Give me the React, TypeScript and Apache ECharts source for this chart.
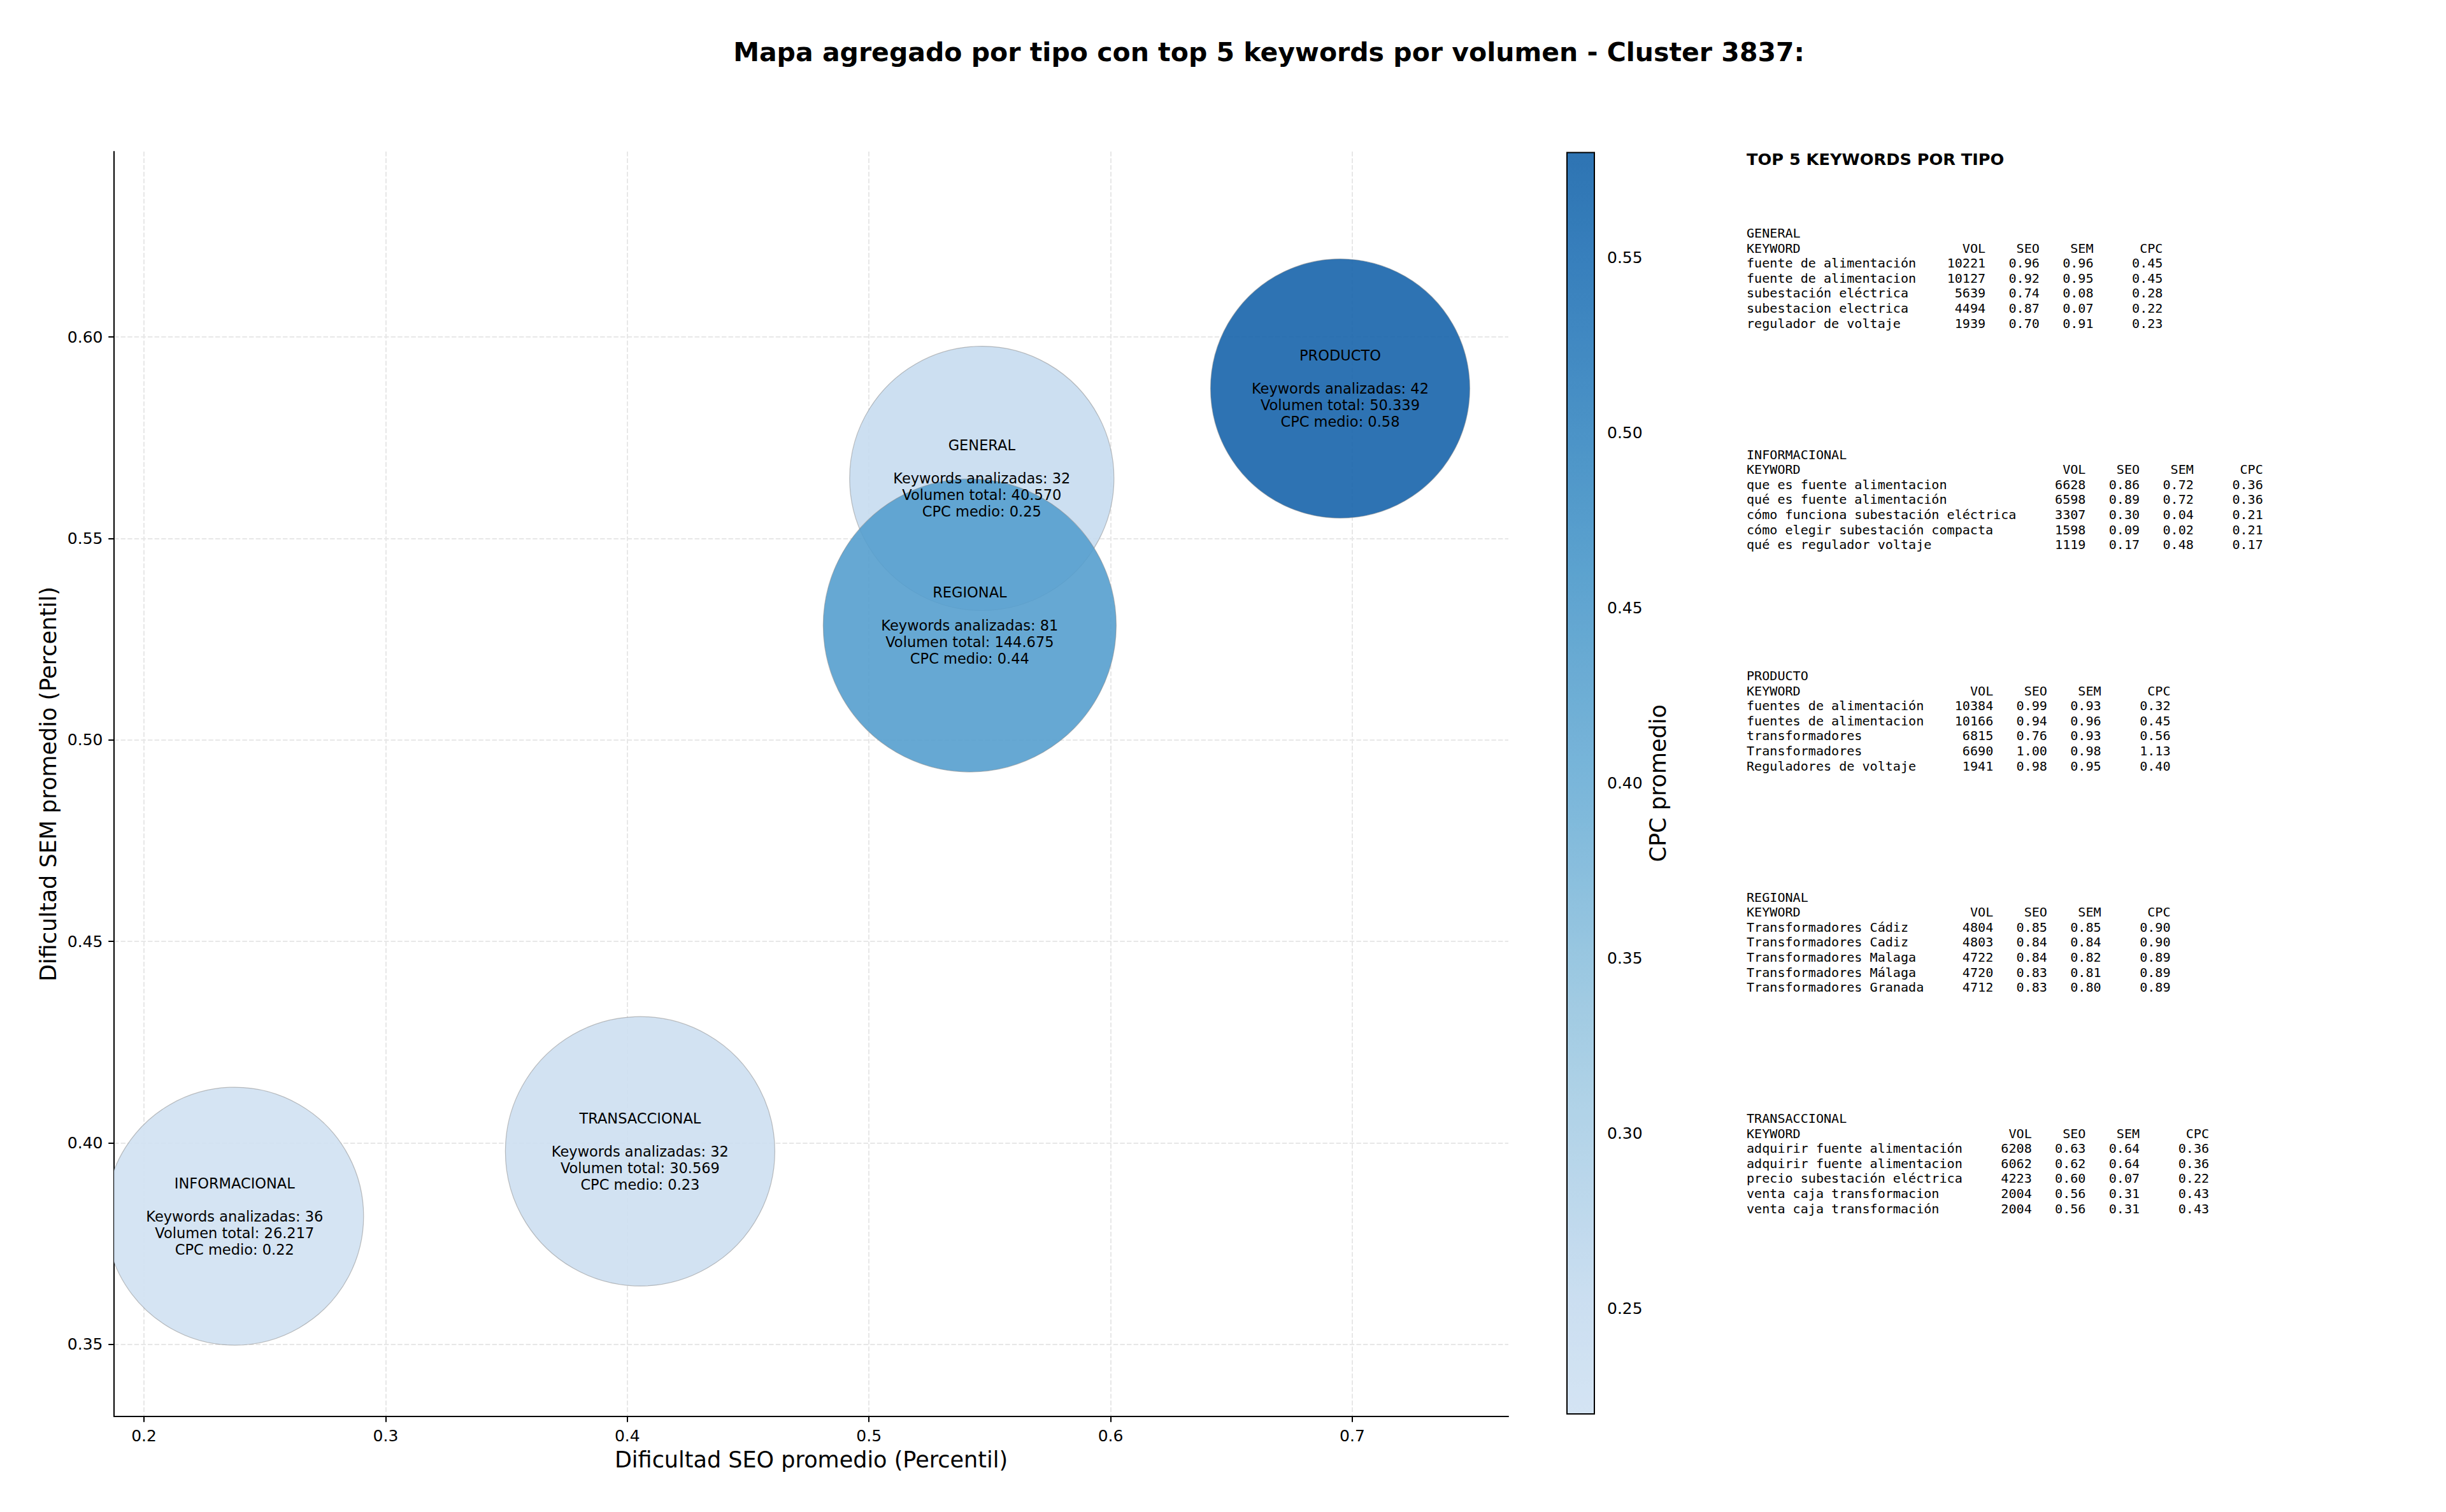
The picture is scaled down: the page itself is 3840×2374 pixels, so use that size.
import React, { useEffect, useRef } from 'react';
import * as echarts from 'echarts';

// ---------------- DATA ----------------
const tipos = ['GENERAL', 'INFORMACIONAL', 'PRODUCTO', 'REGIONAL', 'TRANSACCIONAL'];
const seoPromedio = [0.5467, 0.2375, 0.695, 0.5417, 0.4053];
const semPromedio = [0.5649, 0.3818, 0.5872, 0.5284, 0.3979];
const cpcMedio = [0.25, 0.22, 0.58, 0.44, 0.23];
const keywordsAnalizadas = [32, 36, 42, 81, 32];
const volumenTotal = [40570, 26217, 50339, 144675, 30569];
// marker area (pt^2, as in matplotlib's "s")
const areaMarcador = [27556, 26244, 26504, 33856, 28629];

const xTicks = [0.2, 0.3, 0.4, 0.5, 0.6, 0.7];
const yTicks = [0.35, 0.4, 0.45, 0.5, 0.55, 0.6];
const cbTicks = [0.25, 0.3, 0.35, 0.4, 0.45, 0.5, 0.55];
const xRange = [0.1876, 0.7646];
const yRange = [0.3321, 0.646];
const cpcRange = [0.22, 0.58];

type Row = [string, number, number, number, number];
const topGeneral: Row[] = [
  ['fuente de alimentación', 10221, 0.96, 0.96, 0.45],
  ['fuente de alimentacion', 10127, 0.92, 0.95, 0.45],
  ['subestación eléctrica', 5639, 0.74, 0.08, 0.28],
  ['subestacion electrica', 4494, 0.87, 0.07, 0.22],
  ['regulador de voltaje', 1939, 0.70, 0.91, 0.23],
];
const topInformacional: Row[] = [
  ['que es fuente alimentacion', 6628, 0.86, 0.72, 0.36],
  ['qué es fuente alimentación', 6598, 0.89, 0.72, 0.36],
  ['cómo funciona subestación eléctrica', 3307, 0.30, 0.04, 0.21],
  ['cómo elegir subestación compacta', 1598, 0.09, 0.02, 0.21],
  ['qué es regulador voltaje', 1119, 0.17, 0.48, 0.17],
];
const topProducto: Row[] = [
  ['fuentes de alimentación', 10384, 0.99, 0.93, 0.32],
  ['fuentes de alimentacion', 10166, 0.94, 0.96, 0.45],
  ['transformadores', 6815, 0.76, 0.93, 0.56],
  ['Transformadores', 6690, 1.00, 0.98, 1.13],
  ['Reguladores de voltaje', 1941, 0.98, 0.95, 0.40],
];
const topRegional: Row[] = [
  ['Transformadores Cádiz', 4804, 0.85, 0.85, 0.90],
  ['Transformadores Cadiz', 4803, 0.84, 0.84, 0.90],
  ['Transformadores Malaga', 4722, 0.84, 0.82, 0.89],
  ['Transformadores Málaga', 4720, 0.83, 0.81, 0.89],
  ['Transformadores Granada', 4712, 0.83, 0.80, 0.89],
];
const topTransaccional: Row[] = [
  ['adquirir fuente alimentación', 6208, 0.63, 0.64, 0.36],
  ['adquirir fuente alimentacion', 6062, 0.62, 0.64, 0.36],
  ['precio subestación eléctrica', 4223, 0.60, 0.07, 0.22],
  ['venta caja transformacion', 2004, 0.56, 0.31, 0.43],
  ['venta caja transformación', 2004, 0.56, 0.31, 0.43],
];

// ---------------- STYLE HELPERS ----------------
const BLUES = [
  [247, 251, 255], [222, 235, 247], [198, 219, 239], [158, 202, 225], [107, 174, 214],
  [66, 146, 198], [33, 113, 181], [8, 81, 156], [8, 48, 107],
];
function blues(t: number): number[] {
  const x = Math.max(0, Math.min(1, t)) * 8;
  const i = Math.min(7, Math.floor(x));
  const f = x - i;
  return BLUES[i].map((c, k) => c + (BLUES[i + 1][k] - c) * f);
}
const ALPHA = 0.9;
const stops: number[][] = [];
for (let s = 0; s <= 12; s++) stops.push(blues(0.2 + (0.6 * s) / 12));
const toRgb = (c: number[]) => `rgb(${c.map((v) => Math.round(v)).join(',')})`;
const pureColors = stops.map(toRgb);
const blendedColors = stops.map((c) => toRgb(c.map((v) => ALPHA * v + (1 - ALPHA) * 255)));

const fmtVol = (v: number) => String(v).replace(/\B(?=(\d{3})+(?!\d))/g, '.');

const FONT = 'DejaVu Sans';
const MONO = 'DejaVu Sans Mono';
const PX_PER_PT = 2.5;

// layout
const G = { left: 179, top: 238, width: 2189, height: 1986 };
const CB = { left: 2460, top: 239.5, width: 43, height: 1980.5 };

function buildTable(): any[] {
  const els: any[] = [];
  const x0 = 2742;
  const fs = 20.1;
  const cw = fs * 0.60205;
  const lh = 23.6;
  els.push({
    type: 'text', x: x0, y: 250, z: 50,
    style: { text: 'TOP 5 KEYWORDS POR TIPO', fontSize: 25.6, fontWeight: 'bold', fontFamily: FONT, fill: '#000', align: 'left', verticalAlign: 'middle' },
  });
  const sections: [string, Row[]][] = [
    ['GENERAL', topGeneral],
    ['INFORMACIONAL', topInformacional],
    ['PRODUCTO', topProducto],
    ['REGIONAL', topRegional],
    ['TRANSACCIONAL', topTransaccional],
  ];
  const mk = (text: string, x: number, y: number, align: string) => ({
    type: 'text', x, y, z: 50,
    style: { text, fontSize: fs, fontFamily: MONO, fill: '#000', align, verticalAlign: 'middle' },
  });
  sections.forEach(([tipo, rows], k) => {
    const yh = 366 + 347.5 * k;
    const maxLen = Math.max('KEYWORD'.length, ...rows.map((r) => r[0].length));
    const ends = [maxLen + 9, maxLen + 16, maxLen + 23, maxLen + 32].map((c) => x0 + c * cw);
    els.push(mk(tipo, x0, yh, 'left'));
    els.push(mk('KEYWORD', x0, yh + lh, 'left'));
    ['VOL', 'SEO', 'SEM', 'CPC'].forEach((h, j) => els.push(mk(h, ends[j], yh + lh, 'right')));
    rows.forEach((r, i) => {
      const y = yh + lh * (i + 2);
      els.push(mk(r[0], x0, y, 'left'));
      els.push(mk(String(r[1]), ends[0], y, 'right'));
      els.push(mk(r[2].toFixed(2), ends[1], y, 'right'));
      els.push(mk(r[3].toFixed(2), ends[2], y, 'right'));
      els.push(mk(r[4].toFixed(2), ends[3], y, 'right'));
    });
  });
  return els;
}

export default function App() {
  const ref = useRef<HTMLDivElement>(null);
  useEffect(() => {
    if (!ref.current) return;
    const chart = echarts.init(ref.current, undefined, { renderer: 'svg' });
    const data = tipos.map((t, i) => [seoPromedio[i], semPromedio[i], cpcMedio[i], i]);
    const tickStyle = { color: '#000', width: 2 };
    const option: any = {
      animation: false,
      backgroundColor: '#fff',
      textStyle: { fontFamily: FONT },
      title: {
        text: 'Mapa agregado por tipo con top 5 keywords por volumen - Cluster 3837:',
        left: 1992,
        top: 61,
        padding: 0,
        textAlign: 'center',
        textStyle: { fontSize: 41, fontWeight: 'bold', fontFamily: FONT, color: '#000' },
      },
      grid: [
        { left: G.left, top: G.top, width: G.width, height: G.height, containLabel: false },
        { left: CB.left, top: CB.top, width: CB.width, height: CB.height, containLabel: false },
      ],
      xAxis: [
        {
          type: 'value', gridIndex: 0, min: xRange[0], max: xRange[1],
          axisLine: { show: true, onZero: false, lineStyle: tickStyle },
          axisTick: { show: true, length: 8.75, lineStyle: tickStyle, customValues: xTicks },
          axisLabel: { customValues: xTicks, formatter: (v: number) => v.toFixed(1), fontSize: 25, color: '#000', margin: 17.5, fontFamily: FONT },
          splitLine: { show: true, lineStyle: { color: '#e7e7e7', width: 2, type: [7.4, 3.2] } },
          name: 'Dificultad SEO promedio (Percentil)', nameLocation: 'middle', nameGap: 50,
          nameTextStyle: { fontSize: 35, color: '#000', fontFamily: FONT },
        },
        { type: 'value', gridIndex: 1, min: 0, max: 1, show: false },
      ],
      yAxis: [
        {
          type: 'value', gridIndex: 0, min: yRange[0], max: yRange[1],
          axisLine: { show: true, onZero: false, lineStyle: tickStyle },
          axisTick: { show: true, length: 8.75, lineStyle: tickStyle, customValues: yTicks },
          axisLabel: { customValues: yTicks, formatter: (v: number) => v.toFixed(2), fontSize: 25, color: '#000', margin: 17.5, fontFamily: FONT },
          splitLine: { show: true, lineStyle: { color: '#e7e7e7', width: 2, type: [7.4, 3.2] } },
          name: 'Dificultad SEM promedio (Percentil)', nameLocation: 'middle', nameGap: 86, nameRotate: 90,
          nameTextStyle: { fontSize: 35, color: '#000', fontFamily: FONT },
        },
        {
          type: 'value', gridIndex: 1, min: cpcRange[0], max: cpcRange[1], position: 'right',
          axisLine: { show: false },
          axisTick: { show: true, length: 8.75, lineStyle: tickStyle, customValues: cbTicks },
          axisLabel: { customValues: cbTicks, formatter: (v: number) => v.toFixed(2), fontSize: 25, color: '#000', margin: 20, fontFamily: FONT },
          splitLine: { show: false },
          name: 'CPC promedio', nameLocation: 'middle', nameGap: 82, nameRotate: 90,
          nameTextStyle: { fontSize: 35, color: '#000', fontFamily: FONT },
        },
      ],
      visualMap: {
        type: 'continuous', min: cpcRange[0], max: cpcRange[1], dimension: 2, seriesIndex: 0,
        left: CB.left, top: CB.top, itemWidth: CB.width, itemHeight: CB.height, padding: 0,
        calculable: false, realtime: false, hoverLink: false, orient: 'vertical',
        inRange: { color: pureColors },
        controller: { inRange: { color: blendedColors } },
      },
      series: [
        {
          type: 'custom', xAxisIndex: 0, yAxisIndex: 0, clip: true,
          data,
          encode: { x: 0, y: 1 },
          z: 3,
          renderItem: (params: any, api: any) => {
            const i = params.dataIndex;
            const pt = api.coord([api.value(0), api.value(1)]);
            const r = (Math.sqrt(areaMarcador[i]) * PX_PER_PT) / 2;
            const txt = `${tipos[i]}\n\nKeywords analizadas: ${keywordsAnalizadas[i]}\nVolumen total: ${fmtVol(volumenTotal[i])}\nCPC medio: ${cpcMedio[i].toFixed(2)}`;
            return {
              type: 'group',
              children: [
                {
                  type: 'circle', z2: 0,
                  shape: { cx: pt[0], cy: pt[1], r },
                  style: { fill: api.visual('color'), opacity: ALPHA, stroke: 'rgba(128,128,128,0.55)', lineWidth: 1.2 },
                },
                {
                  type: 'text', z2: 100, x: pt[0], y: pt[1],
                  style: { text: txt, fontSize: 22.5, lineHeight: 26, fill: '#000', fontFamily: FONT, align: 'center', verticalAlign: 'middle' },
                },
              ],
            };
          },
        },
        { type: 'scatter', xAxisIndex: 1, yAxisIndex: 1, data: [], silent: true },
      ],
      graphic: [
        {
          type: 'rect', z: 100, silent: true,
          shape: { x: CB.left, y: CB.top, width: CB.width, height: CB.height },
          style: { fill: 'none', stroke: '#000', lineWidth: 2 },
        },
        ...buildTable(),
      ],
    };
    chart.setOption(option);
    return () => chart.dispose();
  }, []);
  return <div ref={ref} style={{ position: 'absolute', left: 0, top: 0, width: 3840, height: 2374 }} />;
}
